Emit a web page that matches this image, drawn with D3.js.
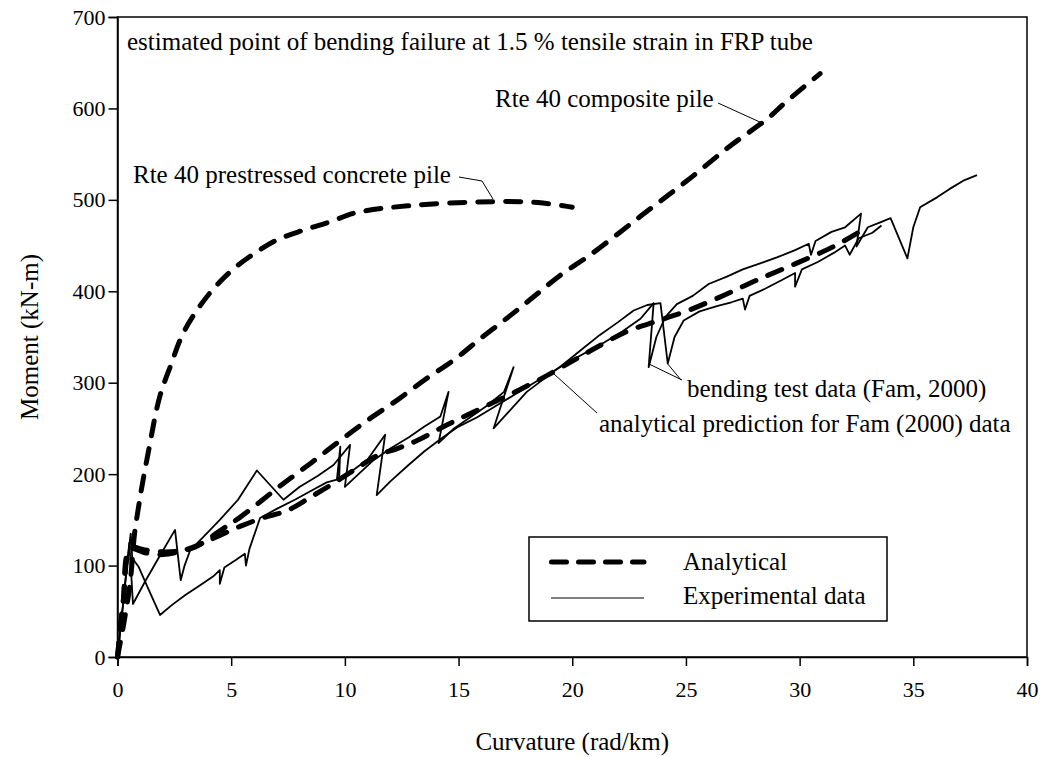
<!DOCTYPE html>
<html>
<head>
<meta charset="utf-8">
<script src="https://cdn.jsdelivr.net/npm/d3@7"></script>
<style>
  body { margin: 0; background: #fff; }
  text { font-family: "Liberation Serif", "Times New Roman", serif; fill: #000; }
</style>
</head>
<body>
<script>
// tick values
const xTicks = [0, 5, 10, 15, 20, 25, 30, 35, 40];
const yTicks = [0, 100, 200, 300, 400, 500, 600, 700];

// analytical curves [curvature rad/km, moment kN-m]
const prestressedPile = [[0,0],[0.3,40],[0.55,80],[0.75,135],[0.9,160],[1.05,183],[1.37,226],[1.85,284],
  [2.37,321],[2.81,350],[3.3,372],[4.06,398],[4.94,421],[5.82,438],[7.0,456],[8.2,467],[9.35,476],
  [10.5,486],[13,494],[16.5,498],[18.5,497],[20,492]];

const compositePile = [[0,0],[0.25,60],[0.6,119],[1.2,117],[2,115],[2.7,116],[3.4,120],[4.5,138],
  [5.4,153],[7.1,186],[8.5,212],[9.7,235],[11,259],[12.3,281],[13.5,303],[14.8,325],[16,349],
  [17.2,372],[18.3,394],[19.5,418],[20.8,440],[23,482],[25,520],[27,560],[28.6,589],[29.3,605],[30.9,638]];

const famPrediction = [[0,0],[0.25,60],[0.55,118],[1.2,114],[2,112],[2.7,115],[3.5,122],[4.5,133],
  [5.5,144],[6.5,153],[7.45,160],[8.5,175],[9.5,190],[10.5,206],[11.4,220],[12.3,228],[13.2,237],
  [14.5,254],[16,272],[17.5,290],[18.9,308],[20.1,325],[21.1,339],[22.4,356],[23.8,368],[25.2,380],
  [26.7,396],[28.1,412],[29.8,430],[31.5,449],[32.9,469]];

// experimental data (Fam, 2000), two records
const testA = [[0,0],[0.15,35],[0.35,85],[0.58,135],[0.65,108],[0.92,99],[1.4,72],[1.87,46],[2.4,57],
  [3.0,68],[3.6,78],[4.2,88],[4.5,95],[4.5,80],[4.7,98],[5.2,106],[5.6,113],[5.65,100],[5.8,118],
  [6.27,152],[7.0,162],[7.8,172],[8.6,183],[9.2,191],[9.65,194],[9.8,230],[9.75,196],[10.4,205],
  [11.0,216],[11.77,243],[11.4,177],[12.0,192],[12.8,210],[13.5,225],[14.3,240],[15.0,252],[15.8,262],
  [16.6,274],[17.4,286],[18.2,298],[19.0,310],[19.8,322],[20.6,333],[21.4,344],[22.2,356],[23.0,370],
  [23.58,387],[23.36,317],[23.7,350],[24.1,372],[24.6,386],[25.3,395],[26.0,408],[26.8,416],[27.5,424],
  [28.2,430],[29.0,437],[29.8,445],[30.4,452],[30.5,440],[30.7,455],[31.4,465],[32.0,470],[32.7,485],
  [32.5,449],[33.0,470],[33.6,476],[34.0,480],[34.74,436],[35.0,470],[35.3,492],[36.06,503],
  [36.6,512],[37.2,521],[37.8,527]];

const testB = [[0,0],[0.3,70],[0.52,125],[0.6,92],[0.68,58],[1.2,82],[1.8,108],[2.53,139],[2.78,84],
  [2.95,100],[3.2,117],[3.8,132],[4.5,150],[5.3,172],[6.13,204],[7.3,172],[8.0,186],[8.8,198],
  [9.5,210],[10.23,232],[10.0,186],[10.6,200],[11.2,214],[12.0,228],[12.8,240],[13.5,252],[14.2,263],
  [14.56,290],[14.12,234],[14.8,250],[15.5,262],[16.2,274],[17.0,290],[17.42,317],[16.54,250],
  [17.2,268],[18.0,290],[18.8,305],[19.6,320],[20.4,336],[21.2,352],[22.0,366],[22.7,379],[23.3,385],
  [23.88,387],[24.2,321],[24.5,350],[24.9,368],[25.6,378],[26.4,384],[27.0,388],[27.5,392],[27.6,380],
  [27.8,395],[28.5,403],[29.2,412],[29.8,420],[29.8,405],[30.1,424],[30.8,432],[31.5,442],[32.0,450],
  [32.2,440],[32.6,458],[33.2,464],[33.6,472]];

const width = 1047, height = 757;
const svg = d3.select("body").append("svg")
    .attr("width", width)
    .attr("height", height);

const x = d3.scaleLinear().domain([0, 40]).range([117.5, 1027]);
const y = d3.scaleLinear().domain([0, 700]).range([657, 17]);

// frame
svg.append("rect")
    .attr("x", x(0)).attr("y", y(700))
    .attr("width", x(40) - x(0)).attr("height", y(0) - y(700))
    .attr("fill", "none").attr("stroke", "#000").attr("stroke-width", 1.5);

// axes
const xAxis = svg.append("g")
    .attr("transform", `translate(0,${y(0)})`)
    .call(d3.axisBottom(x).tickValues(xTicks).tickSize(9).tickPadding(15).tickFormat(d3.format("d")));
const yAxis = svg.append("g")
    .attr("transform", `translate(${x(0)},0)`)
    .call(d3.axisLeft(y).tickValues(yTicks).tickSize(9).tickPadding(3).tickFormat(d3.format("d")));
[xAxis, yAxis].forEach(g => {
  g.select(".domain").attr("stroke-width", 1.5);
  g.selectAll(".tick line").attr("stroke-width", 1.5);
  g.selectAll("text").attr("font-size", 22)
    .attr("font-family", '"Liberation Serif", "Times New Roman", serif');
});

// axis titles
svg.append("text")
    .attr("x", (x(0) + x(40)) / 2).attr("y", 750)
    .attr("text-anchor", "middle").attr("font-size", 25)
    .text("Curvature (rad/km)");
svg.append("text")
    .attr("transform", `translate(38,${(y(0) + y(700)) / 2}) rotate(-90)`)
    .attr("text-anchor", "middle").attr("font-size", 25)
    .text("Moment (kN-m)");

const line = d3.line().x(d => x(d[0])).y(d => y(d[1]));
const smooth = d3.line().x(d => x(d[0])).y(d => y(d[1])).curve(d3.curveCatmullRom);

// experimental
[testA, testB].forEach(s => {
  svg.append("path").datum(s)
    .attr("d", line)
    .attr("fill", "none").attr("stroke", "#000")
    .attr("stroke-width", 1.8).attr("stroke-linejoin", "round");
});

// analytical
[prestressedPile, compositePile, famPrediction].forEach(s => {
  svg.append("path").datum(s)
    .attr("d", smooth)
    .attr("fill", "none").attr("stroke", "#000")
    .attr("stroke-width", 5).attr("stroke-linecap", "round")
    .attr("stroke-dasharray", "15,13");
});

// annotations
const notes = [
  {t: "estimated point of bending failure at 1.5 % tensile strain in FRP tube", x: 127, y: 50},
  {t: "Rte 40 composite pile", x: 495, y: 107},
  {t: "Rte 40 prestressed concrete pile", x: 133, y: 183},
  {t: "bending test data (Fam, 2000)", x: 687, y: 397},
  {t: "analytical prediction for Fam (2000) data", x: 599, y: 432}
];
svg.selectAll(".note").data(notes).join("text")
    .attr("class", "note")
    .attr("x", d => d.x).attr("y", d => d.y)
    .attr("font-size", 25)
    .text(d => d.t);

const leaders = [
  [[718, 103], [762, 123]],
  [[459, 177], [482, 181], [493, 199]],
  [[682, 380], [649, 364]],
  [[681, 380], [667, 363]],
  [[597, 413], [554, 374]]
];
leaders.forEach(p => {
  svg.append("path")
      .attr("d", d3.line()(p))
      .attr("fill", "none").attr("stroke", "#000").attr("stroke-width", 1);
});

// legend
const legend = svg.append("g");
legend.append("rect")
    .attr("x", 529).attr("y", 537).attr("width", 358).attr("height", 84)
    .attr("fill", "#fff").attr("stroke", "#000").attr("stroke-width", 1.5);
legend.append("line")
    .attr("x1", 551.5).attr("x2", 644).attr("y1", 562).attr("y2", 562)
    .attr("stroke", "#000").attr("stroke-width", 5).attr("stroke-linecap", "round")
    .attr("stroke-dasharray", "15,12");
legend.append("line")
    .attr("x1", 551).attr("x2", 644).attr("y1", 598).attr("y2", 598)
    .attr("stroke", "#000").attr("stroke-width", 1.2);
legend.append("text").attr("x", 683).attr("y", 570).attr("font-size", 25).text("Analytical");
legend.append("text").attr("x", 683).attr("y", 604).attr("font-size", 25).text("Experimental data");
</script>
</body>
</html>
